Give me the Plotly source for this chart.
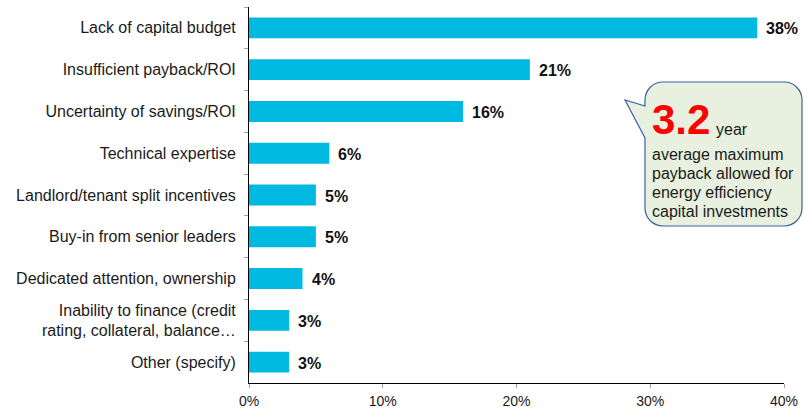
import plotly.graph_objects as go

# Barriers to energy-efficiency capital investment (share of respondents)
categories = [
    "Lack of capital budget",
    "Insufficient payback/ROI",
    "Uncertainty of savings/ROI",
    "Technical expertise",
    "Landlord/tenant split incentives",
    "Buy-in from senior leaders",
    "Dedicated attention, ownership",
    "Inability to finance (credit<br>rating, collateral, balance…",
    "Other (specify)",
]
shares = [38, 21, 16, 6, 5, 5, 4, 3, 3]
x_ticks = [0, 10, 20, 30, 40]
x_tick_labels = ["0%", "10%", "20%", "30%", "40%"]

callout_value = "3.2"
callout_unit = "year"
callout_lines = [
    "average maximum",
    "payback allowed for",
    "energy efficiency",
    "capital investments",
]

W, H = 807, 410
ML, MR, MT, MB = 249, 23, 7, 27
PW, PH = W - ML - MR, H - MT - MB
FONT = "Liberation Sans, Arial, sans-serif"


def px(x, y):
    """Convert page pixel coordinates to paper coordinates."""
    return (x - ML) / PW, (H - MB - y) / PH


def bubble_path(x0, y0, x1, y1, r, tip, base_top, base_bot):
    k = 0.5523 * r

    def P(x, y):
        a, b = px(x, y)
        return f"{a:.5f},{b:.5f}"

    d = f"M{P(x0 + r, y0)} L{P(x1 - r, y0)} "
    d += f"C{P(x1 - r + k, y0)} {P(x1, y0 + r - k)} {P(x1, y0 + r)} "
    d += f"L{P(x1, y1 - r)} "
    d += f"C{P(x1, y1 - r + k)} {P(x1 - r + k, y1)} {P(x1 - r, y1)} "
    d += f"L{P(x0 + r, y1)} "
    d += f"C{P(x0 + r - k, y1)} {P(x0, y1 - r + k)} {P(x0, y1 - r)} "
    d += f"L{P(x0, base_bot)} L{P(*tip)} L{P(x0, base_top)} "
    d += f"L{P(x0, y0 + r)} "
    d += f"C{P(x0, y0 + r - k)} {P(x0 + r - k, y0)} {P(x0 + r, y0)} Z"
    return d


fig = go.Figure(
    go.Bar(
        x=shares,
        y=categories,
        orientation="h",
        marker=dict(color="#00B9E1", line=dict(width=0)),
        hoverinfo="skip",
    )
)

# value labels just past the end of each bar
for cat, v in zip(categories, shares):
    fig.add_annotation(
        x=v, y=cat, xref="x", yref="y",
        text=f"<b>{v}%</b>", showarrow=False,
        xanchor="left", yanchor="middle", xshift=7, yshift=-1,
        font=dict(family=FONT, size=16, color="#111111"),
    )

# speech-bubble callout
fig.add_shape(
    type="path", xref="paper", yref="paper",
    path=bubble_path(645, 82, 802, 226, 18, (625, 100), 106, 138),
    fillcolor="#E8F1DF",
    line=dict(color="#3D5FA6", width=1.2),
    layer="above",
)
ax, ay = px(650, 119)
fig.add_annotation(
    x=ax, y=ay, xref="paper", yref="paper",
    text=f"<b>{callout_value}</b>", showarrow=False,
    xanchor="left", yanchor="middle",
    font=dict(family=FONT, size=42, color="#FF0000"),
)
ax, ay = px(714, 129)
fig.add_annotation(
    x=ax, y=ay, xref="paper", yref="paper",
    text=callout_unit, showarrow=False,
    xanchor="left", yanchor="middle",
    font=dict(family=FONT, size=16, color="#1a1a1a"),
)
line_centres = [154, 173, 192, 211]
for line, c in zip(callout_lines, line_centres):
    ax, ay = px(650, c)
    fig.add_annotation(
        x=ax, y=ay, xref="paper", yref="paper",
        text=line, showarrow=False,
        xanchor="left", yanchor="middle",
        font=dict(family=FONT, size=16, color="#1a1a1a"),
    )

fig.update_layout(
    width=W, height=H,
    margin=dict(l=ML, r=MR, t=MT, b=MB),
    paper_bgcolor="white", plot_bgcolor="white",
    bargap=0.5, showlegend=False,
    font=dict(family=FONT, color="#1a1a1a"),
)
fig.update_xaxes(
    range=[0, 40], tickvals=x_ticks, ticktext=x_tick_labels,
    showgrid=False, zeroline=False,
    showline=True, linecolor="black", linewidth=1,
    ticks="outside", ticklen=4, tickcolor="#a0a0a0",
    tickfont=dict(family=FONT, size=14, color="#1a1a1a"),
    ticklabelstandoff=1, automargin=False,
)
fig.update_yaxes(
    autorange="reversed", showgrid=False, zeroline=False,
    showline=True, linecolor="black", linewidth=1,
    ticks="outside", ticklen=4, tickcolor="#a0a0a0",
    tickson="boundaries",
    tickfont=dict(family=FONT, size=16, color="#1a1a1a"),
    ticklabelstandoff=9, automargin=False,
)

fig.write_html("out.html")
